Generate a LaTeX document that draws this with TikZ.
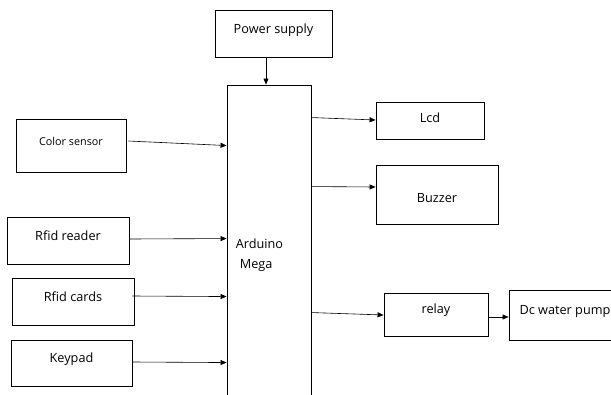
\documentclass[tikz,border=0pt]{standalone}
\usepackage{fontspec}
\setmainfont{Open Sans}
\usetikzlibrary{arrows.meta}
\newcommand{\rtx}[2]{\raisebox{#1}[\height][\depth]{#2}}
\begin{document}
\begin{tikzpicture}[x=1pt,y=-1pt,
  box/.style={draw, line width=0.9pt, inner sep=0pt, font=\fontsize{12.7}{15}\selectfont},
  conn/.style={line width=0.6pt, -{Triangle[length=6pt,width=5pt]}}]
\useasboundingbox (0,0) rectangle (611,394);
\clip (0,0) rectangle (611,394);
\node[box, minimum width=117pt, minimum height=47pt] (ps) at (273.5,33.5) {\rtx{3pt}{Power supply}};
\node[box, minimum width=84pt, minimum height=335pt] (ard) at (269,252.5) {};
\node[font=\fontsize{12.7}{15}\selectfont, align=left, inner sep=0pt] (ardlbl) at (259.5,255.5) {Arduino\\[5pt]\hspace*{4pt}Mega};
\node[box, minimum width=110pt, minimum height=53pt, font=\fontsize{10.8}{13}\selectfont] (cs) at (71,145.5) {\rtx{4.5pt}{Color sensor}};
\node[box, minimum width=122pt, minimum height=47pt] (rr) at (68,240.5) {\rtx{4.5pt}{Rfid reader}};
\node[box, minimum width=122pt, minimum height=47pt] (rc) at (73,301.5) {\rtx{5pt}{Rfid cards}};
\node[box, minimum width=121pt, minimum height=46pt] (kp) at (71.5,363) {\rtx{4pt}{Keypad}};
\node[box, minimum width=108pt, minimum height=37pt] (lcd) at (430,120.5) {\rtx{3pt}{Lcd}};
\node[box, minimum width=122pt, minimum height=59pt] (bz) at (437,194.5) {\rtx{-4pt}{Buzzer}};
\node[box, minimum width=104pt, minimum height=43pt] (rl) at (436,314.5) {\rtx{4pt}{relay}};
\node[box, minimum width=112pt, minimum height=50pt] (pump) at (565,315) {\rtx{3.5pt}{Dc water pump}};
\draw[conn] ([xshift=-7.5pt]ps.south) -- ([xshift=-7.5pt]ps.south |- ard.north);
\draw[conn] ([shift={(2,-4.5)}]cs.east) -- ([shift={(0,61)}]ard.north west);
\draw[conn] ([shift={(0,-1.5)}]rr.east) -- ([shift={(0,154)}]ard.north west);
\draw[conn] ([shift={(-2,-5.5)}]rc.east) -- ([shift={(0,212)}]ard.north west);
\draw[conn] ([shift={(0,-1)}]kp.east) -- ([shift={(0,278)}]ard.north west);
\draw[conn] ([shift={(0,33)}]ard.north east) -- ([shift={(0,-0.5)}]lcd.west);
\draw[conn] ([shift={(0,102)}]ard.north east) -- ([shift={(0,-7.5)}]bz.west);
\draw[conn] ([shift={(0,228)}]ard.north east) -- ([shift={(0,0.5)}]rl.west);
\draw[conn] ([shift={(0,2.5)}]rl.east) -- ([shift={(0,2)}]pump.west);
\end{tikzpicture}
\end{document}
